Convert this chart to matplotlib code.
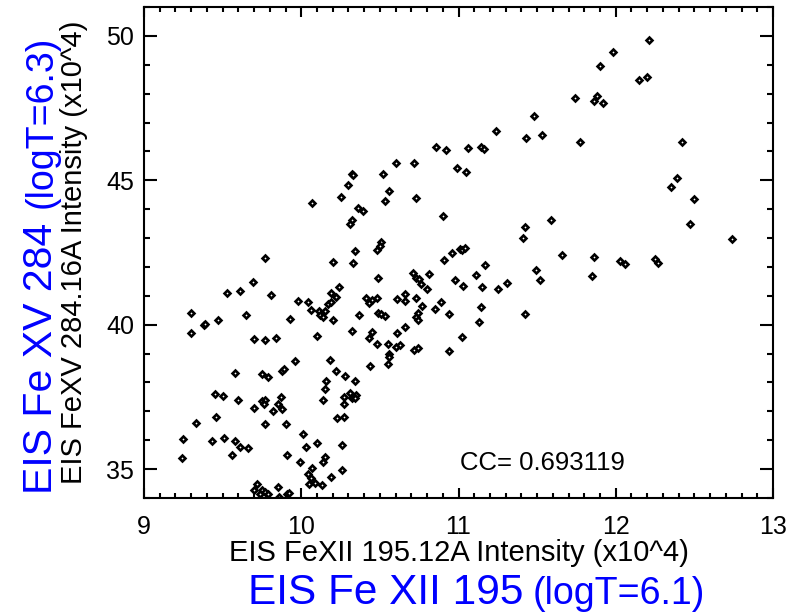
import numpy as np
import matplotlib
matplotlib.use('Agg')
import matplotlib.pyplot as plt
from matplotlib.ticker import MultipleLocator

plt.rcParams['font.family'] = ['Liberation Sans', 'DejaVu Sans']

#%% data (units of 1e4)
fe12 = [10.60, 10.72, 10.86, 10.92, 10.99, 11.06, 11.14, 11.16, 11.24, 11.43,
        11.48, 11.53, 11.74, 11.77, 11.86, 11.88, 11.92, 11.90, 11.98, 12.15,
        12.20, 12.21, 12.42, 10.32, 10.33, 10.30, 10.25, 10.07, 10.36, 10.32,
        10.31, 10.34, 10.20, 10.33, 9.77, 9.69, 10.24, 9.53, 9.61, 9.81,
        10.19, 10.22, 9.98, 10.04, 10.17, 10.19, 10.06, 10.11, 10.15, 10.12,
        10.14, 10.20, 9.93, 9.30, 9.65, 9.47, 9.38, 9.39, 9.30, 9.70,
        9.77, 9.84, 10.10, 10.32, 10.37, 10.52, 11.05, 10.56, 10.53, 10.73,
        10.39, 10.90, 11.59, 11.42, 11.41, 10.51, 10.50, 10.48, 11.01, 11.02,
        11.04, 10.96, 10.91, 11.66, 11.17, 11.49, 11.52, 10.71, 10.81, 10.73,
        10.75, 10.76, 10.49, 10.98, 11.11, 11.31, 11.03, 11.15, 11.25, 10.80,
        10.66, 10.41, 10.45, 10.48, 10.43, 10.61, 10.66, 10.73, 10.77, 10.89,
        10.85, 11.14, 10.49, 10.51, 10.53, 10.74, 10.73, 10.74, 10.94, 11.13,
        11.42, 10.45, 10.61, 10.66, 10.43, 11.02, 12.39, 12.35, 12.50, 12.47,
        12.74, 11.86, 11.85, 12.03, 12.06, 12.25, 12.27, 9.96, 10.18, 9.58,
        9.75, 9.79, 9.88, 9.89, 10.22, 10.28, 10.16, 10.34, 10.15, 10.31,
        10.35, 10.27, 10.32, 10.34, 9.45, 9.50, 9.60, 9.75, 9.77, 9.76,
        9.87, 9.85, 10.14, 10.27, 9.70, 9.82, 9.88, 9.46, 10.23, 10.27,
        9.33, 9.77, 9.90, 10.01, 9.25, 9.43, 9.51, 9.58, 9.61, 9.66,
        10.03, 10.10, 10.26, 9.56, 9.91, 10.15, 10.14, 9.99, 9.24, 10.07,
        10.26, 10.04, 10.06, 10.19, 10.05, 10.09, 10.13, 9.72, 9.70, 9.75,
        9.77, 9.79, 9.74, 9.85, 9.86, 9.91, 9.92, 10.48, 10.55, 10.60,
        10.63, 10.56, 10.56, 10.44, 10.55, 10.72, 10.74, 10.94]

fe15 = [45.60, 45.60, 46.14, 46.04, 45.44, 46.13, 46.15, 46.07, 46.69, 46.46,
        47.23, 46.58, 47.85, 46.34, 47.75, 47.91, 47.67, 48.96, 49.45, 48.47,
        48.56, 49.86, 46.31, 45.23, 45.17, 44.85, 44.42, 44.23, 44.04, 43.63,
        43.47, 42.56, 42.17, 42.13, 42.31, 41.49, 41.32, 41.09, 41.15, 41.03,
        41.11, 40.96, 40.82, 40.79, 40.72, 40.77, 40.52, 40.46, 40.49, 40.34,
        40.25, 40.18, 40.21, 40.42, 40.32, 40.15, 40.00, 40.04, 39.70, 39.51,
        39.46, 39.55, 39.60, 39.78, 40.34, 45.23, 45.28, 44.64, 44.29, 44.37,
        43.94, 43.75, 43.61, 43.37, 43.01, 42.86, 42.72, 42.58, 42.62, 42.59,
        42.64, 42.47, 42.23, 42.40, 42.06, 41.89, 41.56, 41.79, 41.77, 41.62,
        41.58, 41.40, 41.63, 41.56, 41.72, 41.45, 41.33, 41.30, 41.23, 41.24,
        41.07, 40.93, 40.86, 40.92, 40.75, 40.89, 40.82, 40.93, 40.66, 40.78,
        40.53, 40.62, 40.41, 40.38, 40.29, 40.40, 40.25, 40.15, 40.37, 40.08,
        40.37, 39.76, 39.73, 39.92, 39.53, 39.56, 45.07, 44.76, 44.34, 43.49,
        42.96, 42.36, 41.69, 42.20, 42.10, 42.27, 42.14, 38.73, 38.77, 38.34,
        38.29, 38.19, 38.39, 38.45, 38.40, 38.23, 38.06, 38.06, 37.77, 37.64,
        37.58, 37.49, 37.46, 37.46, 37.59, 37.53, 37.40, 37.36, 37.39, 37.24,
        37.49, 37.24, 37.39, 37.25, 37.11, 37.01, 37.09, 36.80, 36.78, 36.82,
        36.58, 36.56, 36.56, 36.21, 36.06, 35.97, 36.09, 35.96, 35.75, 35.72,
        35.75, 35.91, 35.84, 35.49, 35.48, 35.41, 35.24, 35.25, 35.37, 35.03,
        34.97, 34.82, 34.69, 34.71, 34.48, 34.53, 34.44, 34.49, 34.29, 34.29,
        34.20, 34.14, 34.13, 34.37, 34.05, 34.14, 34.16, 39.34, 39.32, 39.22,
        39.30, 38.97, 38.87, 38.58, 38.63, 39.11, 39.20, 39.09]

cc_text = 'CC= 0.693119'
xlabel = 'EIS FeXII 195.12A Intensity (x10^4)'
ylabel = 'EIS FeXV 284.16A Intensity (x10^4)'
xline = ['EIS Fe XII 195', '(logT=6.1)']
yline = ['EIS Fe XV 284', '(logT=6.3)']

#%%
W, H = 800, 614
fig = plt.figure(figsize=(W/100, H/100), dpi=100)
ax = fig.add_axes([144/W, 1-498/H, (773-144)/W, (498-7)/H])

ax.plot(fe12, fe15, ls='none', marker='D', ms=3.0, mfc='white', mec='black', mew=1.9)

ax.set_xlim(9, 13)
ax.set_ylim(34.0, 51.0)
ax.xaxis.set_major_locator(MultipleLocator(1))
ax.xaxis.set_minor_locator(MultipleLocator(0.1))
ax.yaxis.set_major_locator(MultipleLocator(5))
ax.yaxis.set_minor_locator(MultipleLocator(1))
ax.tick_params(which='both', direction='in', top=True, right=True, width=1.5,
               labelsize=18)
ax.tick_params(axis='x', which='major', length=7.5, pad=12)
ax.tick_params(axis='x', which='minor', length=3.8)
ax.tick_params(axis='y', which='major', length=9.5, pad=7)
ax.tick_params(axis='y', which='minor', length=4.5)
for s in ax.spines.values():
    s.set_linewidth(1.5)

ax.text(0.502, 0.057, cc_text, transform=ax.transAxes, fontsize=18.5,
        ha='left', va='baseline')

fig.text(458.5/W, 1-561/H, xlabel, fontsize=21, ha='center', va='baseline')
fig.text(82/W, 1-252.5/H, ylabel, fontsize=21, rotation=90,
         rotation_mode='anchor', ha='center', va='baseline')

#%% blue labels: big part from the start, smaller part ending at the far end
fig.text(248/W, 1-604/H, xline[0], fontsize=30.5, color='blue',
         ha='left', va='baseline')
fig.text(705/W, 1-604/H, xline[1], fontsize=27, color='blue',
         ha='right', va='baseline')

fig.text(52/W, 1-494/H, yline[0], fontsize=29.5, color='blue', rotation=90,
         rotation_mode='anchor', ha='left', va='baseline')
fig.text(52/W, 1-36/H, yline[1], fontsize=27, color='blue', rotation=90,
         rotation_mode='anchor', ha='right', va='baseline')

fig.savefig('out.png', dpi=100)
